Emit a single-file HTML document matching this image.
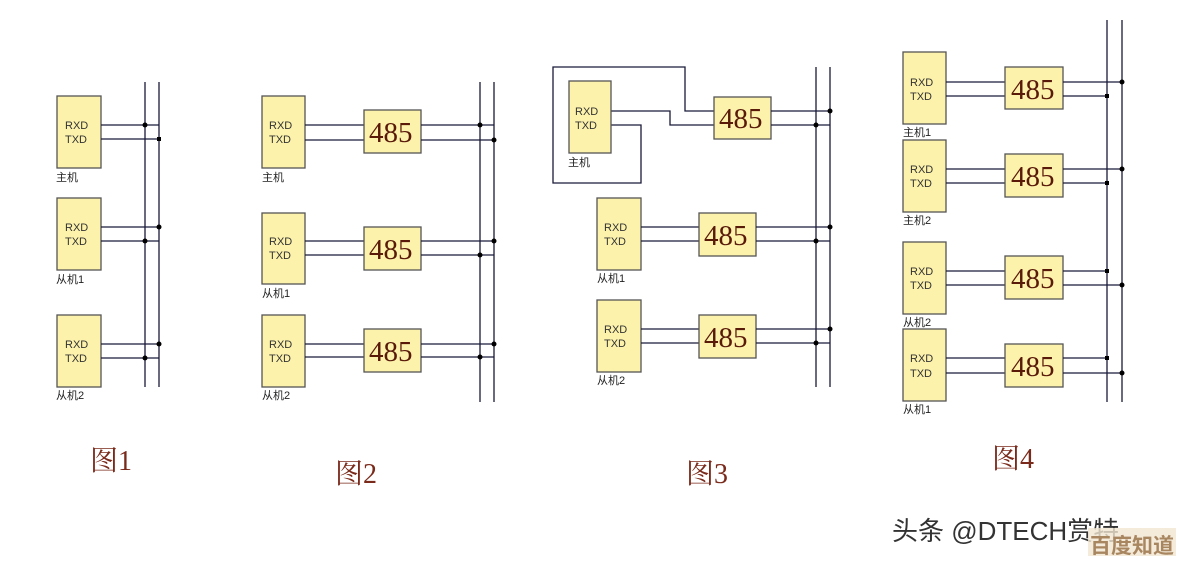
<!DOCTYPE html>
<html><head><meta charset="utf-8"><style>
html,body{margin:0;padding:0;background:#fff;}
svg{display:block;}
.b{fill:#fcf2ab;stroke:#555;stroke-width:1.3}
.w{stroke:#1a1a3a;stroke-width:1.3;fill:none}
.t{font-family:"Liberation Sans",sans-serif;font-size:11px;fill:#333}
.n{font-family:"Liberation Sans","Noto Sans CJK SC",sans-serif;font-size:11px;fill:#222}
.f{font-family:"Liberation Serif",serif;font-size:29px;fill:#5a1a0a}
.c{font-family:"Liberation Serif","Noto Serif CJK SC",serif;font-size:28px;fill:#7a2a1a}
</style></head><body>
<svg width="1179" height="561" xmlns="http://www.w3.org/2000/svg">
<defs>
<g id="blk"><rect class="b" x="0" y="0" width="44" height="72"/></g>
</defs>
<!-- FIG 1 -->
<line class="w" x1="145" y1="82" x2="145" y2="387"/><line class="w" x1="159" y1="82" x2="159" y2="387"/>
<rect class="b" x="57" y="96" width="44" height="72"/><text class="t" x="65" y="129">RXD</text><text class="t" x="65" y="143">TXD</text><text class="n" x="56" y="181">主机</text>
<line class="w" x1="101" y1="125" x2="159" y2="125"/><line class="w" x1="101" y1="139" x2="159" y2="139"/>
<circle cx="145" cy="125" r="2.5"/><rect x="157" y="137" width="4" height="4"/>
<rect class="b" x="57" y="198" width="44" height="72"/><text class="t" x="65" y="231">RXD</text><text class="t" x="65" y="245">TXD</text><text class="n" x="56" y="283">从机1</text>
<line class="w" x1="101" y1="227" x2="159" y2="227"/><line class="w" x1="101" y1="241" x2="159" y2="241"/>
<circle cx="159" cy="227" r="2.5"/><circle cx="145" cy="241" r="2.5"/>
<rect class="b" x="57" y="315" width="44" height="72"/><text class="t" x="65" y="348">RXD</text><text class="t" x="65" y="362">TXD</text><text class="n" x="56" y="399">从机2</text>
<line class="w" x1="101" y1="344" x2="159" y2="344"/><line class="w" x1="101" y1="358" x2="159" y2="358"/>
<circle cx="159" cy="344" r="2.5"/><circle cx="145" cy="358" r="2.5"/>
<text class="c" x="90" y="470">图1</text>

<!-- FIG 2 -->
<line class="w" x1="480" y1="82" x2="480" y2="402"/><line class="w" x1="494" y1="82" x2="494" y2="402"/>
<g>
<rect class="b" x="262" y="96" width="43" height="72"/><text class="t" x="269" y="129">RXD</text><text class="t" x="269" y="143">TXD</text><text class="n" x="262" y="181">主机</text>
<line class="w" x1="305" y1="125" x2="364" y2="125"/><line class="w" x1="305" y1="140" x2="364" y2="140"/>
<rect class="b" x="364" y="110" width="57" height="43"/><text class="f" x="369" y="142">485</text>
<line class="w" x1="421" y1="125" x2="494" y2="125"/><line class="w" x1="421" y1="140" x2="494" y2="140"/>
<circle cx="480" cy="125" r="2.5"/><circle cx="494" cy="140" r="2.5"/>
</g>
<g>
<rect class="b" x="262" y="213" width="43" height="71"/><text class="t" x="269" y="245">RXD</text><text class="t" x="269" y="259">TXD</text><text class="n" x="262" y="297">从机1</text>
<line class="w" x1="305" y1="241" x2="364" y2="241"/><line class="w" x1="305" y1="255" x2="364" y2="255"/>
<rect class="b" x="364" y="227" width="57" height="43"/><text class="f" x="369" y="259">485</text>
<line class="w" x1="421" y1="241" x2="494" y2="241"/><line class="w" x1="421" y1="255" x2="494" y2="255"/>
<circle cx="494" cy="241" r="2.5"/><circle cx="480" cy="255" r="2.5"/>
</g>
<g>
<rect class="b" x="262" y="315" width="43" height="72"/><text class="t" x="269" y="348">RXD</text><text class="t" x="269" y="362">TXD</text><text class="n" x="262" y="399">从机2</text>
<line class="w" x1="305" y1="344" x2="364" y2="344"/><line class="w" x1="305" y1="357" x2="364" y2="357"/>
<rect class="b" x="364" y="329" width="57" height="43"/><text class="f" x="369" y="361">485</text>
<line class="w" x1="421" y1="344" x2="494" y2="344"/><line class="w" x1="421" y1="357" x2="494" y2="357"/>
<circle cx="494" cy="344" r="2.5"/><circle cx="480" cy="357" r="2.5"/>
</g>
<text class="c" x="335" y="483">图2</text>

<!-- FIG 3 -->
<line class="w" x1="816" y1="67" x2="816" y2="387"/><line class="w" x1="830" y1="67" x2="830" y2="387"/>
<polyline class="w" points="714,111 685,111 685,67 553,67 553,183 641,183 641,125 611,125"/>
<polyline class="w" points="611,111 670,111 670,125 714,125"/>
<rect class="b" x="569" y="81" width="42" height="72"/><text class="t" x="575" y="115">RXD</text><text class="t" x="575" y="129">TXD</text><text class="n" x="568" y="166">主机</text>
<rect class="b" x="714" y="97" width="57" height="42"/><text class="f" x="719" y="128">485</text>
<line class="w" x1="771" y1="111" x2="830" y2="111"/><line class="w" x1="771" y1="125" x2="830" y2="125"/>
<circle cx="830" cy="111" r="2.5"/><circle cx="816" cy="125" r="2.5"/>
<g>
<rect class="b" x="597" y="198" width="44" height="72"/><text class="t" x="604" y="231">RXD</text><text class="t" x="604" y="245">TXD</text><text class="n" x="597" y="282">从机1</text>
<line class="w" x1="641" y1="227" x2="699" y2="227"/><line class="w" x1="641" y1="241" x2="699" y2="241"/>
<rect class="b" x="699" y="213" width="57" height="43"/><text class="f" x="704" y="245">485</text>
<line class="w" x1="756" y1="227" x2="830" y2="227"/><line class="w" x1="756" y1="241" x2="830" y2="241"/>
<circle cx="830" cy="227" r="2.5"/><circle cx="816" cy="241" r="2.5"/>
</g>
<g>
<rect class="b" x="597" y="300" width="44" height="72"/><text class="t" x="604" y="333">RXD</text><text class="t" x="604" y="347">TXD</text><text class="n" x="597" y="384">从机2</text>
<line class="w" x1="641" y1="329" x2="699" y2="329"/><line class="w" x1="641" y1="343" x2="699" y2="343"/>
<rect class="b" x="699" y="315" width="57" height="43"/><text class="f" x="704" y="347">485</text>
<line class="w" x1="756" y1="329" x2="830" y2="329"/><line class="w" x1="756" y1="343" x2="830" y2="343"/>
<circle cx="830" cy="329" r="2.5"/><circle cx="816" cy="343" r="2.5"/>
</g>
<text class="c" x="686" y="483">图3</text>

<!-- FIG 4 -->
<line class="w" x1="1107" y1="20" x2="1107" y2="402"/><line class="w" x1="1122" y1="20" x2="1122" y2="402"/>
<g>
<rect class="b" x="903" y="52" width="43" height="72"/><text class="t" x="910" y="86">RXD</text><text class="t" x="910" y="100">TXD</text><text class="n" x="903" y="136">主机1</text>
<line class="w" x1="946" y1="82" x2="1005" y2="82"/><line class="w" x1="946" y1="96" x2="1005" y2="96"/>
<rect class="b" x="1005" y="67" width="58" height="42"/><text class="f" x="1011" y="99">485</text>
<line class="w" x1="1063" y1="82" x2="1122" y2="82"/><line class="w" x1="1063" y1="96" x2="1107" y2="96"/>
<circle cx="1122" cy="82" r="2.5"/><rect x="1105" y="94" width="4" height="4"/>
</g>
<g>
<rect class="b" x="903" y="140" width="43" height="72"/><text class="t" x="910" y="173">RXD</text><text class="t" x="910" y="187">TXD</text><text class="n" x="903" y="224">主机2</text>
<line class="w" x1="946" y1="169" x2="1005" y2="169"/><line class="w" x1="946" y1="183" x2="1005" y2="183"/>
<rect class="b" x="1005" y="154" width="58" height="43"/><text class="f" x="1011" y="186">485</text>
<line class="w" x1="1063" y1="169" x2="1122" y2="169"/><line class="w" x1="1063" y1="183" x2="1107" y2="183"/>
<circle cx="1122" cy="169" r="2.5"/><rect x="1105" y="181" width="4" height="4"/>
</g>
<g>
<rect class="b" x="903" y="242" width="43" height="72"/><text class="t" x="910" y="275">RXD</text><text class="t" x="910" y="289">TXD</text><text class="n" x="903" y="326">从机2</text>
<line class="w" x1="946" y1="271" x2="1005" y2="271"/><line class="w" x1="946" y1="285" x2="1005" y2="285"/>
<rect class="b" x="1005" y="256" width="58" height="43"/><text class="f" x="1011" y="288">485</text>
<line class="w" x1="1063" y1="271" x2="1107" y2="271"/><line class="w" x1="1063" y1="285" x2="1122" y2="285"/>
<rect x="1105" y="269" width="4" height="4"/><circle cx="1122" cy="285" r="2.5"/>
</g>
<g>
<rect class="b" x="903" y="329" width="43" height="72"/><text class="t" x="910" y="362">RXD</text><text class="t" x="910" y="377">TXD</text><text class="n" x="903" y="413">从机1</text>
<line class="w" x1="946" y1="358" x2="1005" y2="358"/><line class="w" x1="946" y1="373" x2="1005" y2="373"/>
<rect class="b" x="1005" y="344" width="58" height="43"/><text class="f" x="1011" y="376">485</text>
<line class="w" x1="1063" y1="358" x2="1107" y2="358"/><line class="w" x1="1063" y1="373" x2="1122" y2="373"/>
<rect x="1105" y="356" width="4" height="4"/><circle cx="1122" cy="373" r="2.5"/>
</g>
<text class="c" x="992" y="468">图4</text>

<!-- watermark -->
<text x="892" y="540" font-family="Liberation Sans,Noto Sans CJK SC,sans-serif" font-size="26" fill="#333">头条 @DTECH赏特</text>
<rect x="1088" y="528" width="88" height="28" fill="#f3e6d2" opacity="0.8"/>
<text x="1090" y="553" font-family="Noto Sans CJK SC,sans-serif" font-size="21" font-weight="bold" fill="#a88660">百度知道</text>
</svg>
</body></html>
